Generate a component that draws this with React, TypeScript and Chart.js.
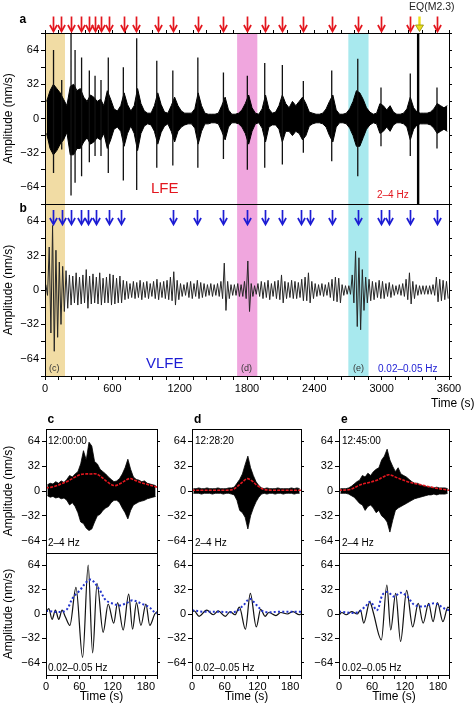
import React, { useEffect, useRef } from 'react';
import { Chart, registerables } from 'chart.js';

Chart.register(...registerables);

const FONT = '"Liberation Sans", Arial, Helvetica, sans-serif';

/* ============================ DATA ============================ */

// Panel a – LFE band (2–4 Hz): body envelope (nm/s) per 30-s bin, 0–3600 s
const lfeBinSeconds = 30;
const lfeUpper = [
  16, 26, 32, 28, 24, 18, 12, 30, 32, 26,
  28, 20, 16, 22, 20, 16, 18, 12, 26, 18,
  9, 7, 12, 24, 13, 7, 12, 28, 14, 7,
  5, 5, 12, 24, 13, 6, 5, 12, 20, 12,
  7, 5, 5, 5, 9, 24, 12, 5, 4, 4,
  4, 5, 12, 20, 8, 4, 4, 5, 8, 14,
  22, 10, 5, 4, 9, 22, 9, 5, 6, 12,
  22, 14, 10, 16, 12, 16, 20, 14, 6, 5,
  4, 4, 5, 9, 16, 22, 8, 4, 4, 5,
  9, 16, 26, 24, 18, 10, 6, 4, 5, 14,
  12, 8, 12, 6, 4, 4, 5, 9, 20, 10,
  6, 5, 5, 5, 6, 9, 14, 12, 10, 12,
];
const lfeLower = [
  -14, -28, -34, -30, -24, -20, -13, -34, -34, -28,
  -28, -22, -18, -24, -22, -18, -20, -14, -28, -20,
  -10, -8, -12, -26, -14, -7, -14, -30, -14, -7,
  -5, -6, -12, -24, -13, -7, -5, -12, -22, -12,
  -8, -6, -5, -5, -9, -24, -12, -5, -5, -4,
  -4, -5, -12, -20, -8, -4, -4, -5, -8, -14,
  -24, -12, -5, -4, -9, -22, -8, -6, -6, -10,
  -22, -12, -12, -16, -12, -14, -20, -16, -7, -5,
  -4, -4, -5, -8, -16, -22, -8, -4, -4, -5,
  -9, -16, -26, -26, -18, -10, -6, -4, -5, -14,
  -12, -8, -12, -6, -4, -4, -5, -8, -20, -10,
  -6, -5, -5, -5, -6, -9, -14, -12, -10, -12,
];
// Panel a – peak spikes of the individual LFEs
const lfeSpikeTimes = [76, 149, 232, 268, 326, 395, 446, 499, 564, 698, 817, 996, 1139, 1362, 1590,
  1803, 1958, 2115, 2302, 2555, 2787, 2994, 3255, 3493];
const lfeSpikeUpper = [64, 36, 90, 64, 57, 45, 40, 36, 57, 48, 75, 54, 45, 57, 43,
  40, 52, 50, 35, 45, 56, 29, 42, 29];
const lfeSpikeLower = [-51, -29, -72, -60, -54, -41, -35, -35, -51, -58, -67, -46, -44, -46, -38,
  -48, -46, -43, -32, -40, -54, -26, -35, -28];

// Panel b – VLFE band (0.02–0.05 Hz): max / min per 30-s bin
const vlfeBinSeconds = 30;
const vlfeUpper = [
  5, 40, 60, 37, 26, 22, 18, 14, 13, 16,
  12, 14, 19, 13, 15, 12, 16, 11, 12, 15,
  14, 11, 13, 9, 8, 6, 8, 7, 9, 7,
  8, 6, 8, 10, 7, 8, 9, 12, 17, 9,
  6, 5, 7, 8, 6, 9, 7, 6, 5, 6,
  5, 6, 8, 25, 8, 5, 5, 6, 5, 8,
  27, 6, 4, 6, 8, 7, 9, 6, 8, 9,
  14, 8, 7, 9, 8, 7, 10, 12, 16, 8,
  6, 5, 6, 5, 7, 10, 12, 11, 5, 4,
  4, 14, 36, 30, 19, 12, 10, 8, 7, 9,
  8, 6, 7, 5, 4, 5, 6, 10, 16, 8,
  5, 4, 4, 4, 4, 5, 12, 10, 9, 8,
];
const vlfeLower = [
  -5, -40, -57, -44, -32, -20, -17, -14, -12, -14,
  -13, -12, -17, -13, -12, -13, -14, -12, -12, -14,
  -13, -12, -12, -9, -8, -7, -8, -7, -9, -7,
  -8, -6, -8, -9, -7, -8, -9, -10, -14, -9,
  -6, -5, -7, -8, -6, -8, -7, -6, -5, -6,
  -5, -6, -8, -19, -8, -5, -5, -6, -6, -8,
  -20, -6, -4, -6, -8, -7, -9, -6, -8, -9,
  -12, -8, -7, -8, -8, -7, -10, -10, -12, -8,
  -6, -5, -6, -5, -7, -10, -11, -12, -5, -4,
  -4, -12, -34, -37, -19, -12, -10, -9, -7, -8,
  -8, -6, -7, -5, -4, -5, -6, -9, -13, -8,
  -5, -4, -4, -4, -4, -5, -11, -10, -9, -8,
];

// Earthquake (M2.3) – clipped record
const eqTime = 3325;
const eqClippedAmp = 200;

// Event markers (s)
const lfeArrowTimes = [74, 140, 229, 321, 396, 443, 497, 570, 701, 811, 1004, 1141, 1360, 1586,
  1803, 1958, 2115, 2302, 2555, 2787, 2994, 3255, 3493];
const eqArrowTime = 3335;
const vlfeArrowTimes = [74, 149, 229, 318, 386, 454, 570, 680, 1141, 1357, 1586,
  1803, 1958, 2115, 2278, 2361, 2555, 2789, 2994, 3068, 3255, 3493];

// Highlighted windows (s)
const windowStarts = [0, 1712, 2703];
const windowEnds = [178, 1892, 2883];
const windowTags = ['(c)', '(d)', '(e)'];

// Tick labels
const longTimeLabels = [0, 600, 1200, 1800, 2400, 3000, 3600];
const shortTimeLabels = [0, 60, 120, 180];
const ampLabels = [-64, -32, 0, 32, 64];

// Panels c, d, e – 2–4 Hz max / min per 5-s bin (0–200 s)
const zoomBinSeconds = 5;
const cHfUpper = [8, 10, 9, 12, 10, 13, 11, 15, 20, 18, 22, 25, 35, 52, 40, 63, 58, 38, 35, 28,
  25, 22, 18, 15, 12, 13, 16, 22, 30, 41, 28, 18, 15, 14, 12, 13, 10, 9, 8, 7];
const cHfLower = [-6, -8, -7, -9, -8, -10, -9, -12, -18, -15, -20, -28, -40, -42, -48, -51, -49, -40, -32, -30,
  -25, -22, -20, -15, -12, -12, -15, -22, -28, -36, -25, -18, -16, -14, -13, -12, -10, -9, -8, -7];
const dHfUpper = [3, 3, 4, 3, 3, 4, 3, 3, 3, 4, 3, 3, 3, 4, 4, 5, 10, 15, 22, 34,
  45, 30, 20, 12, 7, 4, 3, 4, 3, 3, 3, 4, 3, 3, 3, 3, 4, 3, 4, 3];
const dHfLower = [-3, -3, -3, -4, -3, -3, -3, -4, -3, -3, -3, -4, -3, -3, -4, -5, -12, -25, -28, -34,
  -49, -32, -22, -14, -8, -4, -3, -4, -3, -3, -4, -3, -3, -4, -3, -3, -3, -4, -3, -3];
const eHfUpper = [3, 3, 3, 4, 6, 9, 12, 14, 20, 18, 23, 20, 25, 28, 30, 40, 45, 54, 40, 32,
  25, 30, 22, 20, 18, 15, 12, 10, 10, 8, 7, 6, 5, 5, 4, 5, 4, 4, 4, 3];
const eHfLower = [-3, -3, -3, -4, -6, -8, -12, -16, -18, -25, -20, -18, -22, -28, -25, -32, -35, -40, -53, -38,
  -25, -22, -20, -18, -16, -14, -12, -10, -9, -8, -7, -6, -5, -5, -4, -5, -4, -4, -4, -3];

// 2–4 Hz envelopes (red)
const cHfEnvTimes = [0, 10, 20, 30, 40, 50, 61, 70, 80, 91, 100, 110, 123, 135, 150, 160, 170, 180, 195, 200];
const cHfEnvValues = [4, 5, 7, 10, 13, 17, 21, 22, 22, 22, 18, 12, 7, 10, 16, 14, 11, 9, 6, 5];
const dHfEnvTimes = [0, 20, 40, 60, 75, 85, 95, 102, 110, 120, 132, 150, 170, 200];
const dHfEnvValues = [1, 1, 1, 1, 2, 7, 13, 16, 13, 7, 2, 1, 1, 1];
const eHfEnvTimes = [0, 20, 39, 55, 69, 80, 91, 106, 125, 149, 174, 200];
const eHfEnvValues = [1, 2, 8, 11, 14, 18, 21, 17, 12, 8, 4, 1];

// 0.02–0.05 Hz waveforms (peaks and troughs)
const cLfTimes = [0, 5, 11, 17, 23, 29, 35, 43, 54, 66, 76, 84, 92, 103, 112, 122, 129, 139, 149, 156, 163, 171, 180, 187, 196, 200];
const cLfValues = [2, 7, -7, 5, -7, 5, -4, -15, 35, -57, 64, -51, 40, -24, 13, -12, 15, -21, 26, -20, 15, -15, 13, -15, 0, 3];
const dLfTimes = [0, 4, 13, 27, 39, 48, 61, 70, 79, 87, 98, 107, 118, 126, 134, 141, 154, 163, 175, 185, 197, 200];
const dLfValues = [3, 4, -3, 5, -1, 4, -3, 3, -1, 9, -20, 27, -17, 6, -3, 2, -2, 2, 0, 3, -1, 0];
const eLfTimes = [0, 5, 13, 23, 33, 39, 45, 56, 62, 77, 87, 94, 103, 112, 123, 134, 144, 153, 163, 171, 179, 189, 198, 200];
const eLfValues = [-2, 2, -1, 3, 0, 5, -12, 16, 3, -34, 38, -21, 27, -36, 31, -17, 14, -12, 14, -10, 15, -10, 9, 8];

// 0.02–0.05 Hz envelopes (blue)
const cLfEnvTimes = [0, 34, 49, 61, 73, 82, 97, 108, 123, 132, 147, 156, 174, 186, 196, 200];
const cLfEnvValues = [4, 4, 22, 31, 42, 45, 31, 18, 13, 11, 15, 18, 13, 9, 2, 1];
const dLfEnvTimes = [0, 20, 50, 79, 95, 106, 118, 132, 160, 200];
const dLfEnvValues = [5, 3, 3, 3, 12, 20, 12, 3, 3, 3];
const eLfEnvTimes = [0, 33, 48, 57, 69, 79, 88, 100, 112, 124, 137, 155, 174, 192, 200];
const eLfEnvValues = [3, 2, 10, 16, 5, 25, 29, 23, 28, 23, 12, 10, 14, 7, 5];

const windowStartClock = ['12:00:00', '12:28:20', '12:45:00'];

const zoomPanels = [
  { hfUp: cHfUpper, hfLo: cHfLower, hfEnvT: cHfEnvTimes, hfEnvV: cHfEnvValues, lfT: cLfTimes, lfV: cLfValues, lfEnvT: cLfEnvTimes, lfEnvV: cLfEnvValues },
  { hfUp: dHfUpper, hfLo: dHfLower, hfEnvT: dHfEnvTimes, hfEnvV: dHfEnvValues, lfT: dLfTimes, lfV: dLfValues, lfEnvT: dLfEnvTimes, lfEnvV: dLfEnvValues },
  { hfUp: eHfUpper, hfLo: eHfLower, hfEnvT: eHfEnvTimes, hfEnvV: eHfEnvValues, lfT: eLfTimes, lfV: eLfValues, lfEnvT: eLfEnvTimes, lfEnvV: eLfEnvValues },
];

/* ============================ STYLE / LAYOUT ============================ */

const RED = '#e3161e';
const BLUE = '#1c1cd4';
const WINDOW_COLORS = ['#f1dca4', '#f0a6de', '#a8e9ee'];

const LAY = {
  a: { left: 0, top: 0, w: 474, h: 214, l: 45, r: 25, t: 33, b: 10 },
  b: { left: 0, top: 194, w: 474, h: 218, l: 45, r: 25, t: 10, b: 36 },
  cols: [
    { left: 0, w: 162, l: 46, r: 5 },
    { left: 160, w: 147, l: 32, r: 6 },
    { left: 307, w: 167, l: 32, r: 25 },
  ],
  top: { top: 410, h: 153, t: 19, b: 10 },
  bot: { top: 543, h: 162, t: 10, b: 30 },
};

/* ============================ HELPERS ============================ */

const fmtAmp = (v: number) => (v < 0 ? '\u2212' + Math.abs(v) : String(v));

const binPoints = (vals: number[], bin: number) => vals.map((v, i) => ({ x: i * bin + bin / 2, y: v }));

const minMaxPoints = (up: number[], lo: number[], bin: number) =>
  up.flatMap((u, i) => [
    { x: i * bin + bin * 0.25, y: u },
    { x: i * bin + bin * 0.75, y: lo[i] },
  ]);

const spikePoints = (ts: number[], up: number[], lo: number[]) =>
  ts.flatMap((t, i) => [
    { x: t, y: lo[i] },
    { x: t, y: up[i] },
    { x: t, y: null },
  ]);

const zipXY = (ts: number[], vs: number[]) => ts.map((t, i) => ({ x: t, y: vs[i] }));

function axis(o: any) {
  const s: any = {
    type: 'linear',
    axis: o.axis,
    position: o.position,
    min: o.min,
    max: o.max,
    offset: false,
    ticks: {
      stepSize: o.step,
      display: !!o.labelVals,
      autoSkip: false,
      maxRotation: 0,
      minRotation: 0,
      padding: o.tickPad ?? 2,
      color: '#000',
      font: { family: FONT, size: 11 },
      z: 1,
      callback: (v: number) => (o.labelVals && o.labelVals.includes(v) ? (o.fmt ? o.fmt(v) : String(v)) : ''),
    },
    grid: {
      display: true,
      offset: false,
      drawOnChartArea: false,
      drawTicks: o.tickLen > 0,
      tickLength: o.tickLen,
      color: '#000',
      lineWidth: 1,
      z: 1,
    },
    border: { display: true, color: '#000', width: 1, z: 1 },
    title: o.title
      ? { display: true, text: o.title, color: '#000', font: { family: FONT, size: 12 }, padding: o.titlePad }
      : { display: false },
    afterFit: (sc: any) => {
      if (o.axis === 'x') sc.height = o.size;
      else sc.width = o.size;
    },
  };
  if (o.keepVals) {
    s.afterBuildTicks = (sc: any) => {
      sc.ticks = sc.ticks.filter((t: any) => o.keepVals.includes(t.value));
    };
  }
  return s;
}

function bandsPlugin(starts: number[], ends: number[], colors: string[]) {
  return {
    id: 'bands',
    beforeDatasetsDraw(chart: any) {
      const { ctx, chartArea: a } = chart;
      const xs = chart.scales.x;
      ctx.save();
      starts.forEach((s, i) => {
        const x0 = Math.max(xs.getPixelForValue(s), a.left);
        const x1 = Math.min(xs.getPixelForValue(ends[i]), a.right);
        ctx.fillStyle = colors[i];
        ctx.fillRect(x0, a.top, x1 - x0, a.bottom - a.top);
      });
      ctx.restore();
    },
  };
}

function arrowsPlugin(groups: any[]) {
  return {
    id: 'arrows',
    afterDraw(chart: any) {
      const { ctx, chartArea } = chart;
      const xs = chart.scales.x;
      ctx.save();
      for (const g of groups) {
        for (const t of g.times) {
          const x = Math.round(xs.getPixelForValue(t)) + 0.5;
          const y0 = chartArea.top + g.y0;
          const y1 = chartArea.top + g.y1;
          if (g.filled) {
            ctx.strokeStyle = g.color;
            ctx.lineWidth = 2.4;
            ctx.beginPath();
            ctx.moveTo(x, y0);
            ctx.lineTo(x, y1 - g.headH + 1);
            ctx.stroke();
            ctx.fillStyle = g.color;
            ctx.strokeStyle = g.outline;
            ctx.lineWidth = 0.8;
            ctx.beginPath();
            ctx.moveTo(x - g.headW, y1 - g.headH);
            ctx.lineTo(x, y1);
            ctx.lineTo(x + g.headW, y1 - g.headH);
            ctx.closePath();
            ctx.fill();
            ctx.stroke();
          } else {
            ctx.strokeStyle = g.color;
            ctx.lineWidth = g.width;
            ctx.lineJoin = 'miter';
            ctx.beginPath();
            ctx.moveTo(x, y0);
            ctx.lineTo(x, y1 - 0.6);
            ctx.stroke();
            ctx.beginPath();
            ctx.moveTo(x - g.headW, y1 - g.headH);
            ctx.lineTo(x, y1);
            ctx.lineTo(x + g.headW, y1 - g.headH);
            ctx.stroke();
          }
        }
      }
      ctx.restore();
    },
  };
}

function build(canvas: HTMLCanvasElement, datasets: any[], scales: any, plugins: any[] = []) {
  return new Chart(canvas, {
    type: 'line',
    data: { datasets },
    options: {
      responsive: false,
      maintainAspectRatio: false,
      animation: false,
      devicePixelRatio: 1,
      events: [],
      layout: { padding: 0, autoPadding: false },
      plugins: { legend: { display: false }, tooltip: { enabled: false } },
      scales,
    },
    plugins,
  } as any);
}

const ampAxisLeft = (size: number, title?: string, keep?: boolean) =>
  axis({
    axis: 'y', position: 'left', min: -80, max: 80, step: 16, tickLen: 4, tickPad: 2, size,
    labelVals: ampLabels, fmt: fmtAmp, keepVals: keep ? ampLabels : undefined,
    title, titlePad: { top: 1.5, bottom: 0 },
  });
const ampAxisRight = (size: number, keep?: boolean) =>
  axis({ axis: 'y', position: 'right', min: -80, max: 80, step: 16, tickLen: 3, size, keepVals: keep ? ampLabels : undefined });

// filled envelope (upper dataset fills to the next one = lower)
const envelopeDatasets = (up: number[], lo: number[], bin: number, color: string, lw: number) => [
  {
    data: binPoints(up, bin), borderColor: color, backgroundColor: color, borderWidth: lw,
    fill: '+1', pointRadius: 0, tension: 0, xAxisID: 'x', yAxisID: 'y',
  },
  {
    data: binPoints(lo, bin), borderColor: color, backgroundColor: color, borderWidth: lw,
    fill: false, pointRadius: 0, tension: 0, xAxisID: 'x', yAxisID: 'y',
  },
];

/* ============================ COMPONENT ============================ */

function Txt(props: any) {
  const { x, base, size, color = '#000', bold = false, children } = props;
  return (
    <div
      style={{
        position: 'absolute',
        left: x,
        top: base - size * 0.8465,
        fontSize: size,
        lineHeight: `${size}px`,
        color,
        fontWeight: bold ? 700 : 400,
        whiteSpace: 'nowrap',
        fontFamily: FONT,
      }}
    >
      {children}
    </div>
  );
}

export default function App() {
  const aRef = useRef<HTMLCanvasElement>(null);
  const bRef = useRef<HTMLCanvasElement>(null);
  const topRefs = [useRef<HTMLCanvasElement>(null), useRef<HTMLCanvasElement>(null), useRef<HTMLCanvasElement>(null)];
  const botRefs = [useRef<HTMLCanvasElement>(null), useRef<HTMLCanvasElement>(null), useRef<HTMLCanvasElement>(null)];

  useEffect(() => {
    const charts: Chart[] = [];

    // ---- panel a ----
    charts.push(
      build(
        aRef.current!,
        [
          {
            data: [{ x: eqTime, y: -eqClippedAmp }, { x: eqTime, y: eqClippedAmp }],
            borderColor: '#000', borderWidth: 2.4, pointRadius: 0, xAxisID: 'x', yAxisID: 'y',
          },
          {
            data: spikePoints(lfeSpikeTimes, lfeSpikeUpper, lfeSpikeLower),
            borderColor: '#111', borderWidth: 1.3, pointRadius: 0, spanGaps: false, xAxisID: 'x', yAxisID: 'y',
          },
          ...envelopeDatasets(lfeUpper, lfeLower, lfeBinSeconds, '#000', 1),
        ],
        {
          x: axis({ axis: 'x', position: 'bottom', min: 0, max: 3600, step: 120, tickLen: 0, size: LAY.a.b }),
          xt: axis({ axis: 'x', position: 'top', min: 0, max: 3600, step: 120, tickLen: 3, size: LAY.a.t }),
          y: ampAxisLeft(LAY.a.l, 'Amplitude (nm/s)'),
          yr: ampAxisRight(LAY.a.r),
        },
        [
          bandsPlugin(windowStarts, windowEnds, WINDOW_COLORS),
          arrowsPlugin([
            { times: lfeArrowTimes, color: RED, y0: -16.5, y1: -1.5, width: 1.7, headW: 3.6, headH: 6.5 },
            { times: [eqArrowTime], color: '#ecdf1a', outline: '#8d8a10', filled: true, y0: -16.5, y1: -1.5, headW: 4, headH: 6.5 },
          ]),
        ]
      )
    );

    // ---- panel b ----
    charts.push(
      build(
        bRef.current!,
        [
          {
            data: minMaxPoints(vlfeUpper, vlfeLower, vlfeBinSeconds),
            borderColor: '#262626', borderWidth: 1, pointRadius: 0, tension: 0, xAxisID: 'x', yAxisID: 'y',
          },
        ],
        {
          x: axis({
            axis: 'x', position: 'bottom', min: 0, max: 3600, step: 120, tickLen: 4, tickPad: 2, size: LAY.b.b,
            labelVals: longTimeLabels,
          }),
          xt: axis({ axis: 'x', position: 'top', min: 0, max: 3600, step: 120, tickLen: 0, size: LAY.b.t }),
          y: ampAxisLeft(LAY.b.l, 'Amplitude (nm/s)'),
          yr: ampAxisRight(LAY.b.r),
        },
        [
          bandsPlugin(windowStarts, windowEnds, WINDOW_COLORS),
          arrowsPlugin([{ times: vlfeArrowTimes, color: BLUE, y0: 6, y1: 20.5, width: 1.7, headW: 3.6, headH: 6.5 }]),
        ]
      )
    );

    // ---- panels c, d, e ----
    zoomPanels.forEach((p, i) => {
      const col = LAY.cols[i];
      charts.push(
        build(
          topRefs[i].current!,
          [
            {
              data: zipXY(p.hfEnvT, p.hfEnvV),
              borderColor: RED, borderWidth: 1.6, borderDash: [3, 1.2], pointRadius: 0, tension: 0.35,
              xAxisID: 'x', yAxisID: 'y',
            },
            ...envelopeDatasets(p.hfUp, p.hfLo, zoomBinSeconds, '#000', 0.8),
          ],
          {
            x: axis({ axis: 'x', position: 'bottom', min: 0, max: 200, step: 20, tickLen: 0, size: LAY.top.b }),
            xt: axis({ axis: 'x', position: 'top', min: 0, max: 200, step: 20, tickLen: 0, size: LAY.top.t }),
            y: ampAxisLeft(col.l, i === 0 ? 'Amplitude (nm/s)' : undefined, true),
            yr: ampAxisRight(col.r, true),
          }
        )
      );
      charts.push(
        build(
          botRefs[i].current!,
          [
            {
              data: zipXY(p.lfEnvT, p.lfEnvV),
              borderColor: '#2233cc', borderWidth: 2, borderDash: [2, 2.2], pointRadius: 0, tension: 0.35,
              xAxisID: 'x', yAxisID: 'y',
            },
            {
              data: zipXY(p.lfT, p.lfV),
              borderColor: '#111', borderWidth: 1.2, pointRadius: 0, cubicInterpolationMode: 'monotone',
              xAxisID: 'x', yAxisID: 'y',
            },
          ],
          {
            x: axis({
              axis: 'x', position: 'bottom', min: 0, max: 200, step: 20, tickLen: 4, tickPad: 1, size: LAY.bot.b,
              labelVals: shortTimeLabels, title: 'Time (s)', titlePad: { top: 0, bottom: 1 },
            }),
            xt: axis({ axis: 'x', position: 'top', min: 0, max: 200, step: 20, tickLen: 0, size: LAY.bot.t }),
            y: ampAxisLeft(col.l, i === 0 ? 'Amplitude (nm/s)' : undefined, true),
            yr: ampAxisRight(col.r, true),
          }
        )
      );
    });

    return () => charts.forEach((c) => c.destroy());
  }, []);

  const cv = (ref: any, left: number, top: number, w: number, h: number, key: string) => (
    <canvas key={key} ref={ref} width={w} height={h} style={{ position: 'absolute', left, top, width: w, height: h }} />
  );

  const tagX = [49, 241, 353];
  const colTextX = [48, 195, 342];
  const letterX = [47.5, 194, 341];

  return (
    <div style={{ position: 'absolute', left: 0, top: 0, width: 474, height: 705, background: '#fff', overflow: 'hidden', fontFamily: FONT }}>
      {cv(aRef, LAY.a.left, LAY.a.top, LAY.a.w, LAY.a.h, 'a')}
      {cv(bRef, LAY.b.left, LAY.b.top, LAY.b.w, LAY.b.h, 'b')}
      {LAY.cols.map((c, i) => cv(topRefs[i], c.left, LAY.top.top, c.w, LAY.top.h, 'top' + i))}
      {LAY.cols.map((c, i) => cv(botRefs[i], c.left, LAY.bot.top, c.w, LAY.bot.h, 'bot' + i))}

      <Txt x={19.5} base={23} size={12} bold>a</Txt>
      <Txt x={19.5} base={212.5} size={12} bold>b</Txt>
      {['c', 'd', 'e'].map((l, i) => (
        <Txt key={l} x={letterX[i]} base={423.5} size={12} bold>{l}</Txt>
      ))}

      <Txt x={409} base={10} size={10.5} color="#222">EQ(M2.3)</Txt>
      <Txt x={151} base={193} size={15} color={RED}>LFE</Txt>
      <Txt x={377} base={198} size={10} color={RED}>2–4 Hz</Txt>
      <Txt x={146} base={368} size={15} color={BLUE}>VLFE</Txt>
      <Txt x={378} base={372} size={10} color={BLUE}>0.02–0.05 Hz</Txt>
      {windowTags.map((t, i) => (
        <Txt key={t} x={tagX[i]} base={372} size={9} color="#333">{t}</Txt>
      ))}
      <Txt x={431} base={407} size={12}>Time (s)</Txt>

      {windowStartClock.map((t, i) => (
        <Txt key={t} x={colTextX[i]} base={444} size={10}>{t}</Txt>
      ))}
      {colTextX.map((x, i) => (
        <Txt key={'hf' + i} x={x} base={546} size={10}>2–4 Hz</Txt>
      ))}
      {colTextX.map((x, i) => (
        <Txt key={'lf' + i} x={x} base={671} size={10}>0.02–0.05 Hz</Txt>
      ))}
    </div>
  );
}
